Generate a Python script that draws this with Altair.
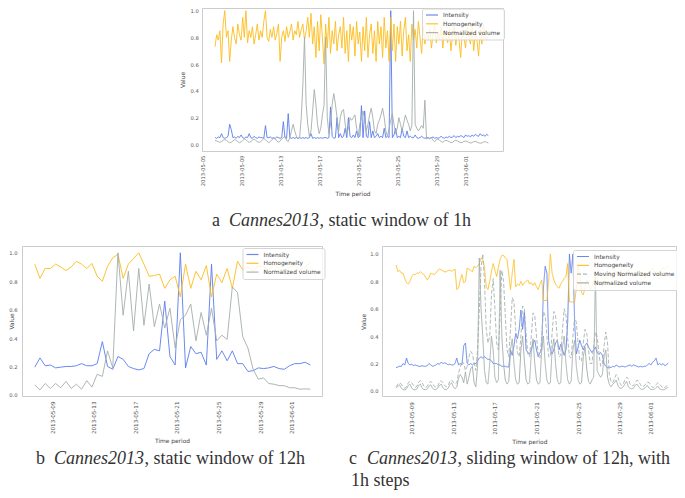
import altair as alt
import pandas as pd

# ------------------------------------------------------------------ data
SERIES3 = ["Intensity", "Homogeneity", "Normalized volume"]
SERIES4 = ["Intensity", "Homogeneity", "Moving Normalized volume", "Normalized volume"]

TICKS_A = ["2013-05-05", "2013-05-09", "2013-05-13", "2013-05-17",
           "2013-05-21", "2013-05-25", "2013-05-29", "2013-06-01"]
TICKS_BC = TICKS_A[1:]
Y_TICKS = [0.0, 0.2, 0.4, 0.6, 0.8, 1.0]

# panel a: static window of 1h (read every 4 hours)
A_START = "2013-05-06 08:00"
A_INT = [
    0.05, 0.045, 0.055, 0.05, 0.08, 0.05,
    0.045, 0.05, 0.06, 0.15, 0.11, 0.05,
    0.055, 0.045, 0.06, 0.05, 0.07, 0.05,
    0.045, 0.055, 0.05, 0.08, 0.05, 0.045,
    0.06, 0.05, 0.045, 0.055, 0.05, 0.05,
    0.045, 0.14, 0.05, 0.05, 0.055, 0.045,
    0.05, 0.045, 0.055, 0.05, 0.045, 0.05,
    0.17, 0.05, 0.045, 0.23, 0.05, 0.045,
    0.05, 0.045, 0.05, 0.045, 0.05, 0.045,
    0.05, 0.045, 0.05, 0.045, 0.05, 0.08,
    0.045, 0.05, 0.045, 0.05, 0.045, 0.05,
    0.045, 0.05, 0.05, 0.045, 0.05, 0.28,
    0.06, 0.045, 0.05, 0.2, 0.05, 0.08,
    0.05, 0.06, 0.12, 0.05, 0.2, 0.06,
    0.05, 0.07, 0.05, 0.1, 0.05, 0.06,
    0.29, 0.05, 0.25, 0.06, 0.05, 0.17,
    0.05, 0.1, 0.05, 0.06, 0.08, 0.05,
    0.06, 0.05, 0.12, 0.05, 0.06, 0.05,
    1.0, 0.05, 0.07, 0.12, 0.05, 0.06,
    0.05, 0.12, 0.06, 0.05, 0.1, 0.05,
    0.06, 0.05, 0.05, 0.07, 0.05, 0.045,
    0.05, 0.06, 0.05, 0.045, 0.05, 0.05,
    0.045, 0.05, 0.055, 0.045, 0.05, 0.045,
    0.05, 0.06, 0.05, 0.045, 0.055, 0.05,
    0.06, 0.05, 0.055, 0.065, 0.05, 0.06,
    0.055, 0.065, 0.06, 0.05, 0.07, 0.06,
    0.065, 0.055, 0.07, 0.06, 0.075, 0.065,
    0.06, 0.08, 0.065, 0.07, 0.06, 0.075, 0.065,
]
A_HOM = [
    0.73, 0.82, 0.78, 0.85, 0.61, 0.9,
    1.0, 0.8, 0.85, 0.62, 0.78, 0.88,
    0.8, 0.75, 0.9, 0.82, 0.78, 0.95,
    0.8, 1.0, 0.76, 0.85, 0.8, 0.88,
    0.75, 0.82, 0.9, 0.78, 0.85, 0.8,
    0.92, 1.0, 0.8, 0.77, 0.86, 0.8,
    0.88, 0.78, 0.83, 0.9, 0.62, 0.8,
    0.85, 0.77, 0.88, 0.8, 0.84, 0.9,
    0.78, 0.85, 0.82, 0.92, 0.8, 0.86,
    0.9, 0.78, 0.85, 0.95, 0.8, 0.98,
    0.75, 0.88, 0.65, 0.92, 0.7, 0.97,
    0.8, 0.6, 0.9, 0.72, 0.95, 0.68,
    0.85, 0.75, 0.92, 0.7, 0.82, 0.88,
    0.72, 0.95, 0.68, 0.85, 0.62, 0.9,
    0.78, 0.88, 0.66, 0.92, 0.75, 0.84,
    0.62, 0.88, 0.7, 0.95, 0.65, 0.82,
    0.9, 0.68, 0.85, 0.62, 0.92, 0.75,
    0.88, 0.65, 0.95, 0.72, 0.85, 0.62,
    0.95, 0.7, 0.9, 0.62, 0.88, 0.75,
    0.92, 0.66, 0.85, 0.95, 0.7, 0.82,
    0.62, 0.9, 0.78, 0.86, 0.72, 0.92,
    0.8, 0.68, 0.88, 0.75, 0.84, 0.78,
    0.86, 0.72, 0.82, 0.9, 0.76, 0.84,
    0.78, 0.88, 0.72, 0.85, 0.8, 0.76,
    0.86, 0.7, 0.82, 0.88, 0.74, 0.84,
    0.78, 0.65, 0.86, 0.8, 0.72, 0.88,
    0.8, 0.75, 0.9, 0.7, 0.84, 0.78,
    0.66, 0.86, 0.75, 0.9, 0.8, 0.78, 0.82,
]
A_VOL = [
    0.03, 0.025, 0.02, 0.015, 0.02, 0.03,
    0.035, 0.03, 0.02, 0.012, 0.015, 0.025,
    0.035, 0.03, 0.02, 0.012, 0.018, 0.028,
    0.04, 0.035, 0.022, 0.015, 0.02, 0.03,
    0.04, 0.03, 0.02, 0.015, 0.02, 0.03,
    0.045, 0.035, 0.022, 0.012, 0.02, 0.035,
    0.045, 0.04, 0.025, 0.015, 0.025, 0.04,
    0.05, 0.06, 0.03, 0.02, 0.05, 0.1,
    0.15, 0.1, 0.06, 0.04, 0.05, 0.2,
    0.45, 0.8, 0.3, 0.15, 0.06, 0.1,
    0.25, 0.41, 0.3, 0.15, 0.08, 0.12,
    0.22, 0.29, 0.8, 0.2, 0.08, 0.15,
    0.3, 0.38, 0.3, 0.2, 0.1, 0.2,
    0.25, 0.26, 0.15, 0.08, 0.12, 0.2,
    0.18, 0.2, 0.22, 0.12, 0.06, 0.15,
    0.2, 0.25, 0.18, 0.1, 0.15, 0.22,
    0.27, 0.2, 0.1, 0.08, 0.15, 0.18,
    0.22, 0.27, 0.2, 0.1, 0.06, 0.12,
    0.18, 0.23, 0.15, 0.08, 0.12, 0.2,
    0.15, 0.1, 0.16, 0.22, 0.18, 0.15,
    0.1, 0.14, 1.0, 0.15, 0.12, 0.1,
    0.12, 0.14, 0.12, 0.33, 0.04, 0.05,
    0.04, 0.05, 0.03, 0.02, 0.035, 0.04,
    0.03, 0.02, 0.015, 0.025, 0.03, 0.025,
    0.02, 0.012, 0.015, 0.025, 0.03, 0.025,
    0.018, 0.012, 0.015, 0.022, 0.025, 0.02,
    0.015, 0.01, 0.012, 0.02, 0.022, 0.018,
    0.012, 0.008, 0.01, 0.018, 0.02, 0.015, 0.01,
]

# panel b: static window of 12h
B_START = "2013-05-07 08:00"
B_INT = [0.195, 0.26, 0.205, 0.21, 0.19, 0.195, 0.2, 0.2, 0.205, 0.22,
         0.205, 0.205, 0.22, 0.375, 0.2, 0.18, 0.27, 0.25, 0.2, 0.185,
         0.176, 0.185, 0.29, 0.32, 0.31, 0.66, 0.27, 0.21, 1.0, 0.19,
         0.34, 0.29, 0.3, 0.21, 0.92, 0.25, 0.31, 0.24, 0.31, 0.22,
         0.22, 0.165, 0.17, 0.19, 0.185, 0.19, 0.2, 0.185, 0.18, 0.205,
         0.22, 0.22, 0.23, 0.21]
B_HOM = [0.92, 0.82, 0.89, 0.89, 0.92, 0.9, 0.875, 0.9, 0.94, 0.92,
         0.89, 0.925, 0.835, 0.8, 0.905, 0.965, 0.99, 0.82, 0.92, 0.96,
         1.0, 0.92, 0.835, 0.84, 0.85, 0.75, 0.81, 0.835, 0.69, 0.92,
         0.75, 0.87, 0.81, 0.91, 0.69, 0.85, 0.79, 0.89, 0.75, 0.94,
         0.88, 0.9, 0.87, 0.91, 0.9, 0.88, 0.92, 0.89, 0.87, 0.9,
         0.91, 0.88, 0.9, 0.93]
B_VOL = [0.07, 0.035, 0.08, 0.045, 0.08, 0.05, 0.095, 0.045, 0.075, 0.04,
         0.1, 0.055, 0.145, 0.13, 0.31, 0.19, 1.0, 0.56, 0.87, 0.45,
         0.89, 0.49, 0.78, 0.48, 0.64, 0.47, 0.61, 0.33, 0.53, 0.56,
         0.64, 0.38, 0.58, 0.42, 0.61, 0.38, 0.42, 0.39, 0.76, 0.72,
         0.41, 0.33, 0.18, 0.11, 0.12, 0.08, 0.075, 0.065, 0.065, 0.05,
         0.05, 0.04, 0.042, 0.04]

# panel c: sliding window of 12h, 1h steps (read every 4 hours)
C_START = "2013-05-07 12:00"
C_INT = [
    0.17, 0.175, 0.18, 0.18, 0.2, 0.19,
    0.24, 0.2, 0.19, 0.195, 0.185, 0.19,
    0.185, 0.18, 0.18, 0.185, 0.18, 0.18,
    0.185, 0.2, 0.19, 0.18, 0.185, 0.19,
    0.2, 0.195, 0.21, 0.2, 0.205, 0.2,
    0.19, 0.195, 0.19, 0.19, 0.2, 0.24,
    0.19, 0.2, 0.19, 0.33, 0.35, 0.2,
    0.19, 0.2, 0.19, 0.2, 0.2, 0.22,
    0.24, 0.25, 0.24, 0.25, 0.24, 0.23,
    0.23, 0.22, 0.2, 0.2, 0.2, 0.19,
    0.19, 0.18, 0.18, 0.18, 0.175, 0.175,
    0.3, 0.26, 0.33, 0.42, 0.38, 0.45,
    0.59, 0.45, 0.58, 0.3, 0.28, 0.27,
    0.3, 0.35, 0.37, 0.3, 0.25, 0.28,
    0.3, 0.75, 0.91, 0.86, 0.37, 0.3,
    0.27, 0.3, 0.35, 0.37, 0.3, 0.34,
    0.3, 0.26, 0.3, 0.5, 1.0, 0.86,
    1.0, 0.5, 0.27, 0.32, 0.37, 0.33,
    0.3, 0.33, 0.35, 0.32, 0.3, 0.28,
    0.3, 0.32, 0.28, 0.27, 0.28, 0.26,
    0.2, 0.18, 0.17, 0.175, 0.17, 0.18,
    0.175, 0.19, 0.18, 0.175, 0.18, 0.18,
    0.175, 0.18, 0.185, 0.19, 0.18, 0.19,
    0.185, 0.18, 0.175, 0.18, 0.175, 0.18,
    0.18, 0.19, 0.2, 0.19, 0.21, 0.22,
    0.24, 0.19, 0.2, 0.19, 0.2, 0.185,
    0.19, 0.205,
]
C_HOM = [
    0.92, 0.87, 0.88, 0.86, 0.86, 0.82,
    0.79, 0.78, 0.8, 0.835, 0.85, 0.85,
    0.86, 0.86, 0.87, 0.86, 0.85, 0.83,
    0.81, 0.83, 0.86, 0.855, 0.85, 0.86,
    0.88, 0.89, 0.885, 0.875, 0.87, 0.87,
    0.88, 0.88, 0.875, 0.88, 0.89, 0.74,
    0.75, 0.81, 0.85, 0.79, 0.8, 0.895,
    0.89, 0.88, 0.87, 0.91, 0.9, 0.91,
    0.93, 0.97, 0.96, 0.9, 0.76, 0.74,
    0.8, 0.87, 0.93, 0.88, 0.835, 0.9,
    0.96, 0.99, 0.99, 0.97, 0.96, 0.85,
    0.74, 0.86, 0.96, 0.76, 0.78, 0.77,
    0.8, 0.77, 0.79, 0.8, 0.81, 0.78,
    0.79, 0.77, 0.79, 0.76, 0.74, 0.78,
    0.81, 0.66, 0.66, 0.66, 0.8, 1.0,
    0.86, 0.81, 0.78, 0.76, 0.75, 0.78,
    0.8, 0.82, 0.835, 0.93, 0.65, 0.65,
    0.65, 0.65, 0.75, 0.91, 0.84, 0.72,
    0.7, 0.76, 0.81, 0.78, 0.74, 0.76,
    0.8, 0.835, 0.82, 0.8, 0.78, 0.76,
    0.8, 0.84, 0.86, 0.85, 0.83, 0.84,
    0.86, 0.87, 0.85, 0.84, 0.83, 0.85,
    0.86, 0.87, 0.88, 0.86, 0.84, 0.83,
    0.85, 0.87, 0.88, 0.87, 0.85, 0.84,
    0.83, 0.85, 0.86, 0.88, 0.89, 0.87,
    0.85, 0.84, 0.86, 0.88, 0.9, 0.89,
    0.9, 0.91,
]
C_MOV = [
    0.03, 0.05, 0.06, 0.05, 0.03, 0.02,
    0.03, 0.06, 0.07, 0.06, 0.04, 0.025,
    0.035, 0.065, 0.075, 0.06, 0.035, 0.025,
    0.035, 0.06, 0.07, 0.055, 0.035, 0.025,
    0.035, 0.065, 0.075, 0.06, 0.04, 0.03,
    0.04, 0.07, 0.08, 0.065, 0.05, 0.06,
    0.13, 0.17, 0.22, 0.2, 0.15, 0.18,
    0.25, 0.29, 0.27, 0.2, 0.15, 0.3,
    0.6, 0.9, 1.0, 0.8, 0.45, 0.35,
    0.4, 0.7, 0.82, 0.6, 0.35, 0.3,
    0.55, 0.88, 0.8, 0.55, 0.3, 0.25,
    0.45, 0.68, 0.65, 0.45, 0.28, 0.25,
    0.4, 0.62, 0.6, 0.42, 0.27, 0.25,
    0.4, 0.57, 0.55, 0.4, 0.26, 0.24,
    0.4, 0.58, 0.55, 0.4, 0.25, 0.25,
    0.42, 0.58, 0.55, 0.38, 0.25, 0.26,
    0.45, 0.6, 0.55, 0.38, 0.25, 0.24,
    0.4, 0.54, 0.5, 0.35, 0.22, 0.22,
    0.35, 0.45, 0.42, 0.3, 0.2, 0.2,
    0.33, 0.43, 0.4, 0.28, 0.18, 0.2,
    0.33, 0.43, 0.35, 0.12, 0.07, 0.06,
    0.09, 0.12, 0.1, 0.06, 0.04, 0.05,
    0.08, 0.1, 0.09, 0.05, 0.035, 0.04,
    0.06, 0.08, 0.07, 0.045, 0.03, 0.035,
    0.05, 0.065, 0.06, 0.04, 0.025, 0.03,
    0.045, 0.06, 0.05, 0.035, 0.02, 0.025,
    0.035, 0.045,
]
C_VOL = [
    0.02, 0.035, 0.045, 0.02, 0.01, 0.008,
    0.015, 0.04, 0.05, 0.02, 0.01, 0.008,
    0.015, 0.04, 0.05, 0.02, 0.01, 0.01,
    0.015, 0.035, 0.045, 0.02, 0.01, 0.01,
    0.02, 0.04, 0.05, 0.025, 0.01, 0.01,
    0.02, 0.045, 0.06, 0.03, 0.015, 0.03,
    0.09, 0.12, 0.1, 0.06, 0.14, 0.05,
    0.1, 0.16, 0.18, 0.06, 0.03, 0.18,
    0.97, 0.6, 0.4, 0.15, 0.06, 0.05,
    0.2, 0.4, 0.3, 0.1, 0.06, 0.08,
    0.88, 0.4, 0.2, 0.08, 0.05, 0.07,
    0.3, 0.38, 0.2, 0.08, 0.05, 0.06,
    0.3, 0.4, 0.22, 0.08, 0.05, 0.06,
    0.28, 0.38, 0.2, 0.08, 0.05, 0.06,
    0.3, 0.4, 0.2, 0.08, 0.05, 0.06,
    0.3, 0.38, 0.2, 0.08, 0.05, 0.06,
    0.32, 0.4, 0.2, 0.08, 0.05, 0.07,
    0.3, 0.37, 0.18, 0.08, 0.05, 0.06,
    0.25, 0.32, 0.16, 0.07, 0.05, 0.08,
    0.1, 0.86, 0.15, 0.12, 0.1, 0.12,
    0.25, 0.3, 0.1, 0.05, 0.03, 0.05,
    0.06, 0.08, 0.04, 0.02, 0.02, 0.03,
    0.05, 0.07, 0.03, 0.02, 0.015, 0.02,
    0.04, 0.05, 0.03, 0.015, 0.01, 0.015,
    0.03, 0.04, 0.02, 0.012, 0.01, 0.012,
    0.025, 0.035, 0.015, 0.01, 0.008, 0.01,
    0.02, 0.025,
]

# ------------------------------------------------------------------ style
FONT = "DejaVu Sans"
SERIF = "Liberation Serif"
LABEL_C = "#555555"
TITLE_C = "#444444"
FRAME_C = "#cccccc"
COLORS3 = ["#5b7cec", "#fdbd1c", "#a3aeab"]
COLORS4 = ["#5b7cec", "#fdbd1c", "#a9b3b1", "#9eaaa7"]
DASHES4 = [[1, 0], [1, 0], [4, 2], [1, 0]]


def long_df(start, freq, names, arrays):
    frames = []
    for name, arr in zip(names, arrays):
        dates = pd.date_range(start, periods=len(arr), freq=freq).strftime("%Y-%m-%dT%H:%M:%S")
        frames.append(pd.DataFrame({"date": list(dates), "value": arr, "series": name}))
    return pd.concat(frames, ignore_index=True)


def dt(s):
    y, m, d = s[:10].split("-")
    h = int(s[11:13]) if len(s) > 10 else 0
    mi = int(s[14:16]) if len(s) > 13 else 0
    return alt.DateTime(year=int(y), month=int(m), date=int(d), hours=h, minutes=mi)


def xaxis(offset, title_y, ticks, font, pad):
    return alt.Axis(orient="bottom", offset=offset, values=[dt(t) for t in ticks],
                    format="%Y-%m-%d", labelAngle=270, labelFontSize=font, labelFont=FONT,
                    labelColor=LABEL_C, labelPadding=pad, labelOverlap=False, labelFlush=False,
                    ticks=False, tickSize=0, domain=False, grid=False,
                    title="Time period", titleFont=FONT, titleFontSize=5.9,
                    titleFontWeight="normal", titleColor=TITLE_C, titleY=title_y,
                    titleBaseline="middle")


def yaxis(offset, title_x, pad):
    return alt.Axis(orient="left", offset=offset, values=Y_TICKS, format=".1f",
                    labelFontSize=5.2, labelFont=FONT, labelColor=LABEL_C, labelPadding=pad,
                    ticks=False, tickSize=0, domain=False, grid=False,
                    title="Value", titleFont=FONT, titleFontSize=5.9, titleFontWeight="normal",
                    titleColor=TITLE_C, titleAngle=270, titleX=title_x, titleBaseline="middle")


def legend(x, y):
    return alt.Legend(orient="none", legendX=x, legendY=y, title=None, labelFont=FONT,
                      labelFontSize=5.9, labelColor="#444444", symbolType="stroke",
                      symbolSize=144, symbolStrokeWidth=1.2, labelOffset=4, padding=3,
                      rowPadding=1.8, clipHeight=7, strokeColor="#d5d5d5",
                      fillColor="rgba(255,255,255,0.8)", cornerRadius=2, labelLimit=200)


def panel(df, names, colors, xdom, xrange, ydom, yrange, xax, yax, leg, dashes=None):
    enc = dict(
        x=alt.X("date:T", scale=alt.Scale(domain=[dt(xdom[0]), dt(xdom[1])], range=xrange, nice=False), axis=xax),
        y=alt.Y("value:Q", scale=alt.Scale(domain=ydom, range=yrange, zero=False, nice=False), axis=yax),
        color=alt.Color("series:N", scale=alt.Scale(domain=names, range=colors), legend=leg, sort=names),
    )
    if dashes:
        enc["strokeDash"] = alt.StrokeDash("series:N", scale=alt.Scale(domain=names, range=dashes),
                                           legend=leg, sort=names)
    return alt.Chart(df).mark_line(strokeWidth=1, opacity=0.9).encode(**enc)


ONE = pd.DataFrame({"k": [0]})


def frame(x1, x2, y1, y2):
    return alt.Chart(ONE).mark_rect(fillOpacity=0, stroke=FRAME_C, strokeWidth=1).encode(
        x=alt.value(x1), x2=alt.value(x2), y=alt.value(y1), y2=alt.value(y2))


def txt(s, x, y, italic=False):
    return alt.Chart(ONE).mark_text(text=s, font=SERIF, fontSize=18,
                                    fontStyle="italic" if italic else "normal",
                                    align="left", baseline="middle", color="#333333").encode(
        x=alt.value(x), y=alt.value(y))


H = 482
df_a = long_df(A_START, "4h", SERIES3, [A_INT, A_HOM, A_VOL])
df_b = long_df(B_START, "12h", SERIES3, [B_INT, B_HOM, B_VOL])
df_c = long_df(C_START, "4h", SERIES4, [C_INT, C_HOM, C_MOV, C_VOL])

pa = panel(df_a, SERIES3, COLORS3, ("2013-05-05 00:00", "2013-06-04 20:00"), [194, 495],
           [-0.05, 1.02], [143, 0],
           xaxis(143 - H, 42, TICKS_A, 5.3, 4), yaxis(-194, -19.7, 3.7), legend(414, 0.5))
pb = panel(df_b, SERIES3, COLORS3, ("2013-05-06 02:30", "2013-06-03 23:00"), [14, 314],
           [-0.008, 1.048], [388, 238],
           xaxis(388 - H, 44, TICKS_BC, 5.6, 5), yaxis(-14, -11, 5), legend(234.5, 240))
pc = panel(df_c, SERIES4, COLORS4, ("2013-05-06 05:00", "2013-06-03 10:00"), [374.7, 668],
           [-0.042, 1.058], [388.7, 238],
           xaxis(388.7 - H, 44.3, TICKS_BC, 5.6, 5), yaxis(-374.7, -19.4, 4.7), legend(565, 242),
           dashes=DASHES4)

frames = [frame(194.5, 495.5, 0.5, 143.5), frame(14.5, 314.5, 238.5, 388.5),
          frame(374.5, 668.5, 238.5, 388.5)]

caps = [
    txt("a", 204, 213), txt("Cannes2013", 221, 213, True), txt(", static window of 1h", 311.5, 213),
    txt("b", 28, 451), txt("Cannes2013", 46, 451, True), txt(", static window of 12h", 136.5, 451),
    txt("c", 341, 451), txt("Cannes2013", 359, 451, True),
    txt(", sliding window of 12h, with", 449.5, 451),
    txt("1h steps", 343, 473),
]

chart = alt.layer(pa, pb, pc, *frames, *caps).resolve_scale(
    x="independent", y="independent", color="independent", strokeDash="independent"
).resolve_axis(x="independent", y="independent").resolve_legend(
    color="independent", strokeDash="independent"
).properties(
    width=669, height=H, autosize=alt.AutoSizeParams(type="none"), padding=0
).configure_view(strokeOpacity=0)

chart.save("out.html", embed_options={"renderer": "svg", "actions": False})
